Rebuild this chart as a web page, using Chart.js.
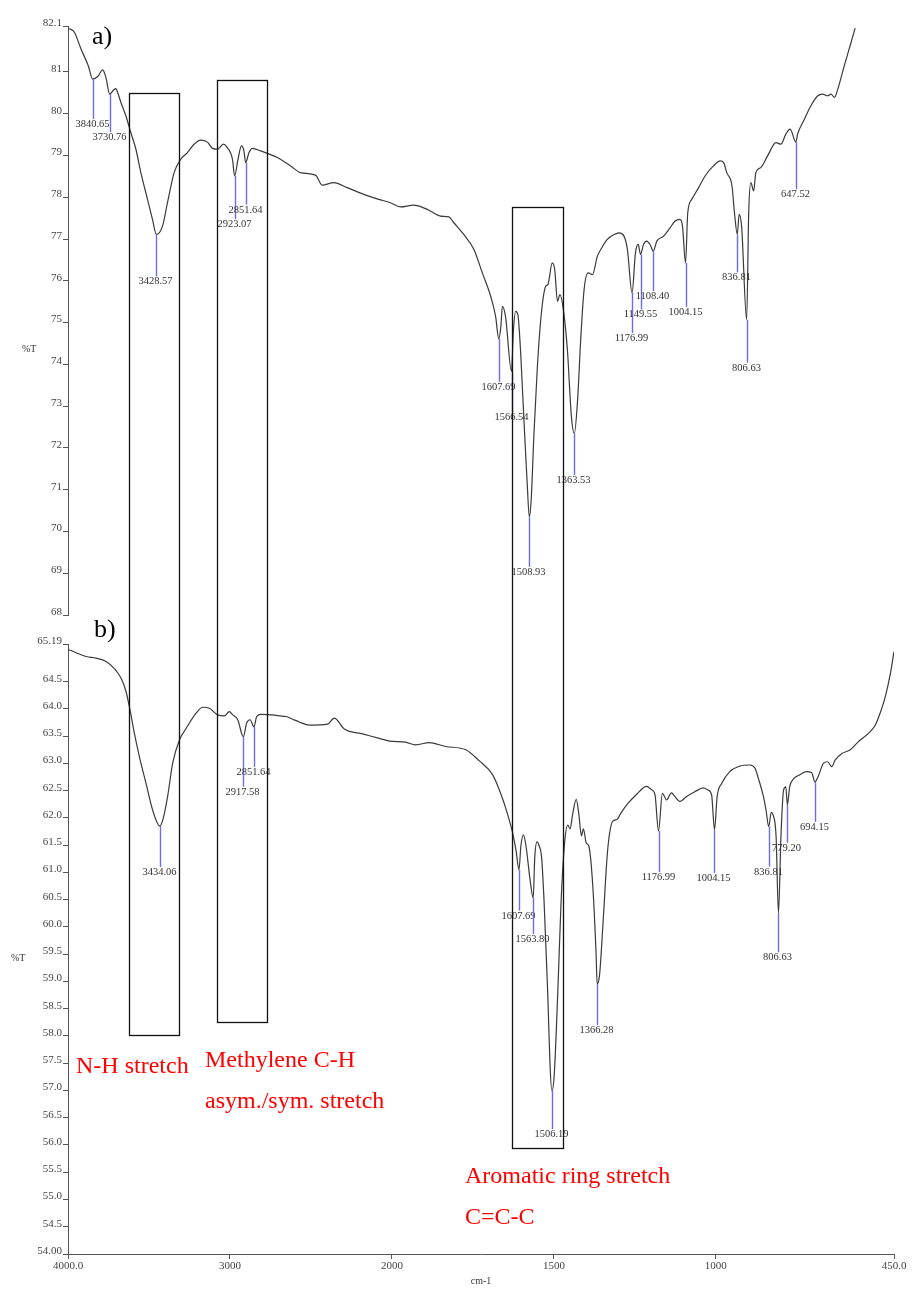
<!DOCTYPE html>
<html>
<head>
<meta charset="utf-8">
<script src="https://cdn.jsdelivr.net/npm/chart.js@4.4.1/dist/chart.umd.min.js"></script>
<style>
  html, body { margin: 0; padding: 0; background: #ffffff; }
  #wrap { position: relative; width: 912px; height: 1290px; }
  #wrap canvas { position: absolute; left: 0; top: 0; }
</style>
</head>
<body>
<div id="wrap">
  <canvas id="specA" width="912" height="1290"></canvas>
  <canvas id="specB" width="912" height="1290"></canvas>
</div>
<script>
// ---------- spectrum a) ----------
const wavenumberA = [3992, 3959, 3916, 3869, 3840.65, 3808, 3776, 3755, 3730.76, 3705,
  3690, 3679, 3658, 3626, 3594, 3561, 3529, 3486, 3454, 3428.57,
  3389, 3357, 3314, 3271, 3228, 3185, 3142, 3099, 3066, 3034,
  2995, 2970, 2937, 2923.07, 2901, 2879, 2863, 2851.64, 2830, 2808,
  2755, 2712, 2647, 2561, 2497, 2400, 2357, 2282, 2195, 2088,
  1996, 1958, 1926, 1883, 1839, 1796, 1769, 1753, 1721, 1688,
  1661, 1634, 1618, 1607.69, 1601, 1596, 1586, 1566.54, 1561, 1553,
  1546, 1537, 1527, 1516, 1508.93, 1503, 1494, 1483, 1470, 1456,
  1449, 1435, 1427, 1418, 1410, 1399, 1386, 1373, 1363.53, 1353,
  1343, 1332, 1319, 1305, 1289, 1278, 1257, 1235, 1219, 1203,
  1192, 1176.99, 1166, 1157, 1149.55, 1140, 1130, 1119, 1108.40, 1097,
  1075, 1054, 1038, 1022, 1014, 1004.15, 997, 984, 962, 941,
  914, 892, 881, 871, 854, 846, 836.81, 831, 823, 806.63,
  800, 793, 784, 777, 761, 739, 712, 696, 680, 666,
  647.52, 642, 620, 599, 577, 561, 545, 534, 523, 512,
  491, 469, 456];
const transmittanceA = [82.04, 81.95, 81.55, 81.15, 80.83, 80.89, 81.05, 80.87, 80.47, 80.57,
  80.60, 80.51, 80.27, 79.95, 79.55, 79.15, 78.59, 77.95, 77.47, 77.11,
  77.31, 77.87, 78.59, 78.91, 79.07, 79.27, 79.37, 79.32, 79.17, 79.15,
  79.27, 79.19, 78.91, 78.51, 78.91, 79.23, 79.11, 78.83, 79.07, 79.17,
  79.11, 79.05, 78.95, 78.75, 78.59, 78.53, 78.29, 78.35, 78.23, 78.07,
  77.95, 77.87, 77.77, 77.81, 77.71, 77.55, 77.53, 77.39, 77.11, 76.75,
  76.19, 75.63, 75.15, 74.61, 74.91, 75.39, 75.15, 73.83, 74.75, 75.27,
  75.19, 74.27, 72.75, 71.16, 70.35, 70.76, 72.35, 73.95, 75.23, 75.87,
  75.91, 76.43, 76.27, 75.51, 75.67, 75.31, 74.35, 72.75, 72.35, 73.15,
  74.59, 75.79, 76.19, 76.15, 76.59, 76.75, 76.99, 77.11, 77.15, 77.07,
  76.75, 75.71, 76.67, 76.87, 76.63, 76.87, 76.95, 76.87, 76.71, 76.95,
  77.07, 77.27, 77.43, 77.47, 77.31, 76.43, 77.63, 77.95, 78.23, 78.51,
  78.75, 78.87, 78.83, 78.59, 78.27, 77.63, 77.11, 77.59, 77.31, 75.07,
  77.63, 78.35, 78.15, 78.59, 78.71, 78.99, 79.31, 79.27, 79.51, 79.63,
  79.32, 79.51, 79.87, 80.19, 80.43, 80.47, 80.43, 80.47, 80.39, 80.59,
  81.15, 81.71, 82.05];
const peaksA = [3840.65, 3730.76, 3428.57, 2923.07, 2851.64, 1607.69, 1566.54, 1508.93,
  1363.53, 1176.99, 1149.55, 1108.40, 1004.15, 836.81, 806.63, 647.52];
const yTicksA = [82.1, 81, 80, 79, 78, 77, 76, 75, 74, 73, 72, 71, 70, 69, 68];
const yTickLabelsA = ['82.1', '81', '80', '79', '78', '77', '76', '75', '74', '73', '72', '71', '70', '69', '68'];

// ---------- spectrum b) ----------
const wavenumberB = [3998, 3950, 3888, 3827, 3765, 3714, 3672, 3641, 3617, 3590,
  3559, 3518, 3477, 3434.06, 3415, 3385, 3354, 3312, 3271, 3209,
  3168, 3127, 3076, 3035, 3004, 2983, 2952, 2917.58, 2897, 2876,
  2851.64, 2835, 2808, 2736, 2695, 2654, 2613, 2572, 2510, 2397,
  2356, 2294, 2181, 2078, 2016, 1958, 1927, 1885, 1834, 1772,
  1731, 1689, 1663, 1643, 1628, 1617, 1607.69, 1602, 1594, 1586,
  1574, 1563.80, 1559, 1552, 1545, 1538, 1530, 1519, 1512, 1506.19,
  1499, 1488, 1478, 1467, 1457, 1450, 1442, 1431, 1423, 1415,
  1409, 1400, 1392, 1380, 1370, 1366.28, 1359, 1348, 1334, 1318, 1305,
  1295, 1272, 1245, 1214, 1199, 1188, 1176.99, 1165, 1152, 1137,
  1126, 1111, 1091, 1065, 1039, 1024, 1013, 1004.15, 996, 982,
  957, 926, 895, 879, 869, 853, 845, 836.81, 829, 823,
  814, 806.63, 799, 791, 784, 779.20, 772, 761, 741, 720,
  704, 694.15, 684, 668, 655, 642, 632, 611, 585, 560,
  529, 508, 493, 477, 461, 450];
const transmittanceB = [65.09, 65.03, 64.96, 64.93, 64.87, 64.74, 64.56, 64.31, 63.98, 63.55,
  63.12, 62.63, 62.14, 61.85, 61.96, 62.39, 63.00, 63.43, 63.64, 63.92,
  64.03, 64.01, 63.89, 63.87, 63.95, 63.89, 63.80, 63.49, 63.74, 63.80,
  63.67, 63.86, 63.90, 63.89, 63.87, 63.86, 63.81, 63.76, 63.70, 63.72,
  63.83, 63.63, 63.54, 63.46, 63.41, 63.39, 63.34, 63.38, 63.31, 63.25,
  63.05, 62.79, 62.43, 62.07, 61.74, 61.41, 61.05, 61.48, 61.69, 61.48,
  60.89, 60.53, 61.28, 61.56, 61.48, 61.28, 60.43, 58.79, 57.48, 56.99,
  57.28, 58.79, 60.43, 61.54, 61.87, 61.80, 62.07, 62.34, 62.07, 61.67,
  61.80, 61.54, 61.48, 60.76, 59.55, 58.95, 59.12, 60.10, 61.41, 61.94, 61.97,
  62.07, 62.26, 62.43, 62.58, 62.52, 62.43, 61.76, 62.45, 62.33, 62.46,
  62.39, 62.30, 62.39, 62.48, 62.55, 62.51, 62.42, 61.78, 62.39, 62.63,
  62.85, 62.95, 62.97, 62.91, 62.73, 62.39, 62.14, 61.84, 62.10, 62.05,
  61.66, 60.25, 61.66, 62.51, 62.57, 62.24, 62.57, 62.71, 62.79, 62.85,
  62.83, 62.66, 62.76, 63.00, 63.03, 62.94, 63.06, 63.18, 63.25, 63.40,
  63.55, 63.70, 63.92, 64.22, 64.65, 65.05];
const peaksB = [3434.06, 2917.58, 2851.64, 1607.69, 1563.80, 1506.19, 1366.28,
  1176.99, 1004.15, 836.81, 806.63, 779.20, 694.15];
const yTicksB = [65.19, 64.5, 64.0, 63.5, 63.0, 62.5, 62.0, 61.5, 61.0, 60.5, 60.0, 59.5,
  59.0, 58.5, 58.0, 57.5, 57.0, 56.5, 56.0, 55.5, 55.0, 54.5, 54.0];
const yTickLabelsB = ['65.19', '64.5', '64.0', '63.5', '63.0', '62.5', '62.0', '61.5', '61.0',
  '60.5', '60.0', '59.5', '59.0', '58.5', '58.0', '57.5', '57.0', '56.5', '56.0', '55.5',
  '55.0', '54.5', '54.00'];

// ---------- shared wavenumber axis ----------
const xTickWavenumbers = [4000, 3000, 2000, 1500, 1000, 450];
const xTickLabels = ['4000.0', '3000', '2000', '1500', '1000', '450.0'];

// highlighted band regions (wavenumber edges, %T on panel a for top, panel b for bottom)
const bandFromWn = [3621, 3080, 1628];
const bandToWn = [3312, 2773, 1472];
const bandTopT = [80.49, 80.81, 77.76];
const bandBottomT = [58.02, 58.26, 55.94];

// ---------- styling / layout ----------
const SERIF = '"Liberation Serif", "Times New Roman", serif';
const leaderA = [40, 38, 42, 43, 42, 43, 41, 50, 42, 40, 55, 40, 44, 38, 43, 47];
const leaderB = [41, 50, 40, 41, 36, 38, 41, 41, 43, 40, 39, 38, 40];

// The instrument plots 4000-2000 cm-1 at half the scale of 2000-450 cm-1.
const SCALE_BREAK = 2000;
function axisPos(w) {
  return w >= SCALE_BREAK ? 4000 - w : (4000 - SCALE_BREAK) + 2 * (SCALE_BREAK - w);
}
const AXIS_MAX = axisPos(450);

const peakLabels = {
  id: 'peakLabels',
  afterDatasetsDraw(chart, args, opts) {
    const { ctx } = chart;
    const xs = chart.scales.x, ys = chart.scales.y;
    ctx.save();
    ctx.strokeStyle = '#6c6cf0';
    ctx.lineWidth = 1.4;
    ctx.fillStyle = '#333333';
    ctx.font = '10.5px ' + SERIF;
    ctx.textAlign = 'center';
    ctx.textBaseline = 'top';
    opts.peaks.forEach((w, i) => {
      const k = opts.wn.indexOf(w);
      const px = Math.round(xs.getPixelForValue(axisPos(w))) + 0.5;
      const py = ys.getPixelForValue(opts.t[k]);
      const end = py + opts.leader[i];
      ctx.beginPath();
      ctx.moveTo(px, py);
      ctx.lineTo(px, end);
      ctx.stroke();
      ctx.fillText(w.toFixed(2), px - 1, end);
    });
    ctx.restore();
  }
};

function yAxis(min, max, ticks, labels) {
  return {
    type: 'linear', min, max,
    afterBuildTicks: s => { s.ticks = ticks.map(v => ({ value: v })); },
    afterFit: s => { s.width = 68; },
    border: { display: true, color: '#555555', width: 1 },
    grid: { drawOnChartArea: false, drawTicks: true, tickLength: 5, color: '#555555' },
    ticks: {
      autoSkip: false, padding: 1, labelOffset: -3, color: '#444444',
      font: { family: SERIF, size: 11 },
      callback: (v, i) => labels[i]
    }
  };
}

function spectrumChart(id, wn, t, peaks, leader, yCfg, showX, padding, extraPlugins) {
  return new Chart(document.getElementById(id), {
    type: 'line',
    data: {
      datasets: [{
        data: wn.map((w, i) => ({ x: axisPos(w), y: t[i] })),
        borderColor: '#3a3a3a',
        borderWidth: 1.2,
        pointRadius: 0,
        cubicInterpolationMode: 'monotone',
        fill: false
      }]
    },
    options: {
      responsive: false,
      animation: false,
      devicePixelRatio: 1,
      layout: { autoPadding: false, padding },
      plugins: {
        legend: { display: false },
        tooltip: { enabled: false },
        peakLabels: { peaks, leader, wn, t }
      },
      scales: {
        x: {
          type: 'linear', min: 0, max: AXIS_MAX, display: showX,
          afterBuildTicks: s => { s.ticks = xTickWavenumbers.map(w => ({ value: axisPos(w) })); },
          afterFit: s => { s.height = showX ? 36 : 0; },
          border: { display: true, color: '#555555', width: 1 },
          grid: { drawOnChartArea: false, drawTicks: true, tickLength: 5, color: '#555555' },
          ticks: {
            autoSkip: false, maxRotation: 0, padding: 1, color: '#444444',
            font: { family: SERIF, size: 11 },
            callback: (v, i) => xTickLabels[i]
          }
        },
        y: yCfg
      }
    },
    plugins: [peakLabels].concat(extraPlugins || [])
  });
}

const chartA = spectrumChart('specA', wavenumberA, transmittanceA, peaksA, leaderA,
  yAxis(68, 82.1, yTicksA, yTickLabelsA), false,
  { top: 26, left: 0, right: 55, bottom: 675 });

// free text drawn over both panels
const notes = [
  { text: 'N-H stretch', x: 76, y: 1073 },
  { text: 'Methylene C-H', x: 205, y: 1067 },
  { text: 'asym./sym. stretch', x: 205, y: 1108 },
  { text: 'Aromatic ring stretch', x: 465, y: 1183 },
  { text: 'C=C-C', x: 465, y: 1224 }
];

const decorations = {
  id: 'decorations',
  afterDraw(chart) {
    const { ctx } = chart;
    const xs = chart.scales.x, ysB = chart.scales.y, ysA = chartA.scales.y;
    ctx.save();
    // band boxes spanning both spectra
    ctx.strokeStyle = '#111111';
    ctx.lineWidth = 1.3;
    bandFromWn.forEach((w, i) => {
      const x1 = xs.getPixelForValue(axisPos(w));
      const x2 = xs.getPixelForValue(axisPos(bandToWn[i]));
      const y1 = ysA.getPixelForValue(bandTopT[i]);
      const y2 = ysB.getPixelForValue(bandBottomT[i]);
      ctx.strokeRect(Math.round(x1) + 0.5, Math.round(y1) + 0.5, Math.round(x2 - x1), Math.round(y2 - y1));
    });
    // assignments
    ctx.fillStyle = '#ff0000';
    ctx.font = '24px ' + SERIF;
    ctx.textAlign = 'left';
    ctx.textBaseline = 'alphabetic';
    notes.forEach(n => ctx.fillText(n.text, n.x, n.y));
    // panel letters
    ctx.fillStyle = '#000000';
    ctx.font = '26px ' + SERIF;
    ctx.fillText('a)', 92, 44);
    ctx.fillText('b)', 94, 637);
    // axis titles
    ctx.fillStyle = '#333333';
    ctx.font = '10px ' + SERIF;
    ctx.textBaseline = 'middle';
    ctx.fillText('%T', 22, 349);
    ctx.fillText('%T', 11, 958);
    ctx.textAlign = 'center';
    ctx.fillText('cm-1', 481, 1281);
    ctx.restore();
  }
};

const chartB = spectrumChart('specB', wavenumberB, transmittanceB, peaksB, leaderB,
  yAxis(54, 65.19, yTicksB, yTickLabelsB), true,
  { top: 644, left: 0, right: 18, bottom: 0 }, [decorations]);
</script>
</body>
</html>
